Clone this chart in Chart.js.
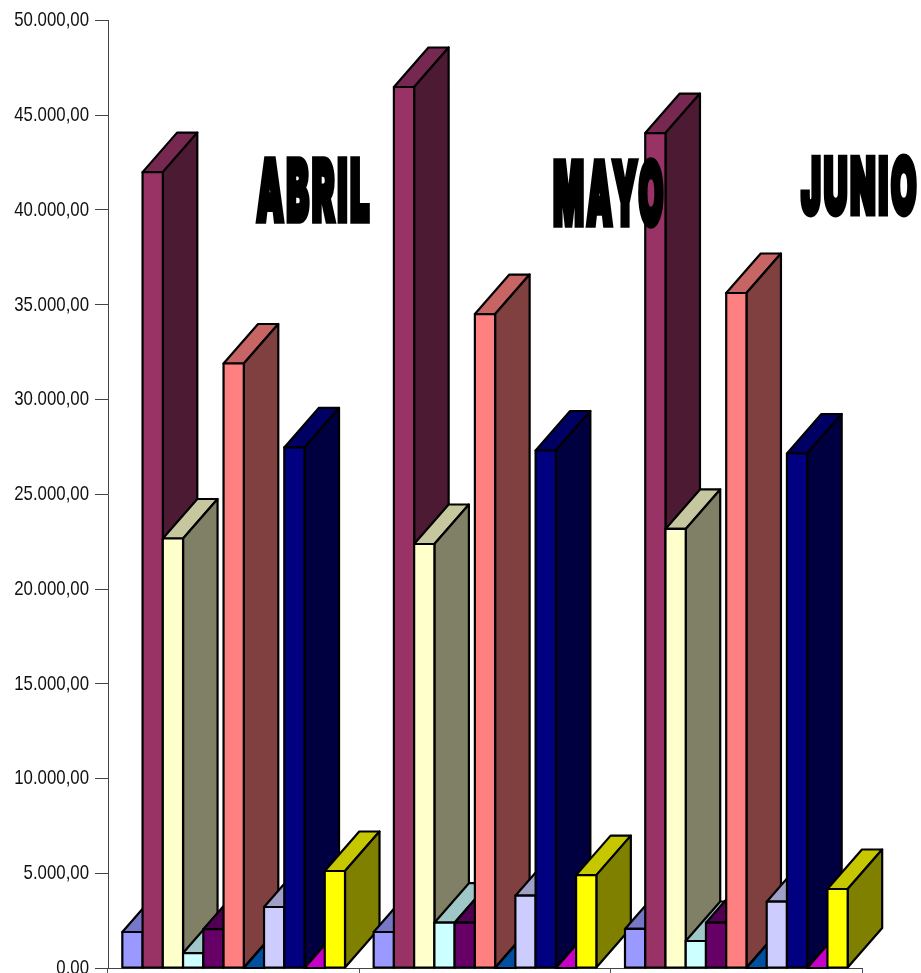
<!DOCTYPE html>
<html lang="es">
<head>
<meta charset="UTF-8">
<title>Abril Mayo Junio</title>
<script src="https://cdn.jsdelivr.net/npm/chart.js"></script>
<style>
    html, body { margin: 0; padding: 0; background: #fff; overflow: hidden; }
    canvas { display: block; }
</style>
</head>
<body>
<canvas id="chart" width="921" height="973"></canvas>
<script>
// values
var categories = ['ABRIL', 'MAYO', 'JUNIO'];
var yTickLabels = ['0,00', '5.000,00', '10.000,00', '15.000,00', '20.000,00', '25.000,00',
    '30.000,00', '35.000,00', '40.000,00', '45.000,00', '50.000,00'];

var periwinkle = [1900, 1900, 2060];
var maroon = [42000, 46490, 44060];
var cream = [22665, 22375, 23170];
var lightCyan = [790, 2390, 1425];
var purple = [2050, 2390, 2390];
var salmon = [31900, 34510, 35620];
var blue = [0, 0, 0];
var lavender = [3220, 3815, 3500];
var navy = [27470, 27310, 27150];
var magenta = [0, 0, 0];
var yellow = [5120, 4900, 4170];

var seriesValues = [periwinkle, maroon, cream, lightCyan, purple, salmon, blue, lavender, navy, magenta, yellow];
var seriesColors = [[153, 153, 255], [153, 51, 102], [255, 255, 204], [204, 255, 255], [102, 0, 102],
    [255, 128, 128], [0, 102, 204], [204, 204, 255], [0, 0, 128], [255, 0, 255], [255, 255, 0]];

// depth of the fake 3d, and where the wordart titles sit (x, y, w, h)
var DEPTH_X = 34.5, DEPTH_Y = 39.5;
var titleBoxes = [[256, 156, 114, 68], [553, 158, 111, 71], [800, 154, 117, 63]];

function shade(c, f) {
    return 'rgb(' + c.map(function(v) { return Math.round(v * f); }).join(',') + ')';
}

function poly(ctx, pts, fill) {
    ctx.beginPath();
    pts.forEach(function(p, i) { if (i) ctx.lineTo(p[0], p[1]); else ctx.moveTo(p[0], p[1]); });
    ctx.closePath();
    ctx.fillStyle = fill;
    ctx.fill();
    ctx.stroke();
}

// bars are painted group by group, left to right, so nearer bars cover the depth of earlier ones
var bars3d = {
    id: 'bars3d',
    beforeDatasetsDraw: function(chart) {
        var ctx = chart.ctx;
        categories.forEach(function(cat, g) {
            seriesValues.forEach(function(vals, s) {
                var el = chart.getDatasetMeta(s).data[g];
                var p = el.getProps(['x', 'y', 'base', 'width']);
                var l = p.x - p.width / 2, r = p.x + p.width / 2;
                ctx.save();
                ctx.strokeStyle = '#000';
                ctx.lineWidth = 2.2;
                ctx.lineJoin = 'round';
                poly(ctx, [[l, p.y], [r, p.y], [r + DEPTH_X, p.y - DEPTH_Y], [l + DEPTH_X, p.y - DEPTH_Y]], shade(seriesColors[s], 0.78));
                poly(ctx, [[r, p.y], [r + DEPTH_X, p.y - DEPTH_Y], [r + DEPTH_X, p.base - DEPTH_Y], [r, p.base]], shade(seriesColors[s], 0.5));
                el.draw(ctx, chart.chartArea);
                ctx.strokeRect(l, p.y, p.width, p.base - p.y);
                ctx.restore();
            });
        });
        return false;
    }
};

// no narrow font here, so the tick labels get squeezed by hand
var narrowTicks = {
    id: 'narrowTicks',
    afterDraw: function(chart) {
        var ctx = chart.ctx;
        var scale = chart.scales.y;
        scale.ticks.forEach(function(t, i) {
            ctx.save();
            ctx.font = '21px "Liberation Sans"';
            ctx.fillStyle = '#111';
            ctx.textAlign = 'right';
            ctx.textBaseline = 'middle';
            ctx.translate(89, scale.getPixelForTick(i));
            ctx.scale(0.8, 1);
            ctx.fillText(yTickLabels[i], 0, 0);
            ctx.restore();
        });
    }
};

var wordArt = {
    id: 'wordArt',
    afterDraw: function(chart) {
        var ctx = chart.ctx;
        var lw = 9;
        categories.forEach(function(cat, i) {
            var box = titleBoxes[i];
            ctx.save();
            ctx.font = '900 100px Inter, Roboto, "Liberation Sans"';
            ctx.letterSpacing = '9px';
            ctx.textBaseline = 'alphabetic';
            ctx.textAlign = 'left';
            var m = ctx.measureText(cat);
            var tw = m.actualBoundingBoxRight + m.actualBoundingBoxLeft + lw;
            var th = m.actualBoundingBoxAscent + m.actualBoundingBoxDescent + lw;
            ctx.translate(box[0], box[1]);
            ctx.scale(box[2] / tw, box[3] / th);
            ctx.fillStyle = '#000';
            ctx.strokeStyle = '#000';
            ctx.lineWidth = lw;
            ctx.lineJoin = 'miter';
            ctx.miterLimit = 2;
            var x = m.actualBoundingBoxLeft + lw / 2, y = m.actualBoundingBoxAscent + lw / 2;
            ctx.fillText(cat, x, y);
            ctx.strokeText(cat, x, y);
            ctx.restore();
        });
    }
};

var ctx = document.getElementById('chart').getContext('2d');
var chart = new Chart(ctx, {
    type: 'bar',
    data: {
        labels: categories,
        datasets: seriesValues.map(function(vals, s) {
            return { data: vals, backgroundColor: shade(seriesColors[s], 1), borderWidth: 0 };
        })
    },
    options: {
        responsive: false,
        animation: false,
        devicePixelRatio: 1,
        layout: { padding: { top: 20.5, right: 59, left: 0, bottom: 0 } },
        plugins: { legend: { display: false }, tooltip: { enabled: false } },
        datasets: { bar: { barPercentage: 1, categoryPercentage: 0.886 } },
        scales: {
            x: {
                grid: { drawOnChartArea: false, drawTicks: true, tickLength: 6, color: '#555' },
                border: { color: '#444', width: 1 },
                ticks: { display: false },
                afterFit: function(s) { s.height = 5; s.paddingLeft = 0; s.paddingRight = 0; }
            },
            y: {
                min: 0,
                max: 50000,
                grid: { drawOnChartArea: false, drawTicks: true, tickLength: 13, color: '#444' },
                border: { color: '#444', width: 1 },
                ticks: {
                    stepSize: 5000,
                    display: false
                },
                afterFit: function(s) { s.width = 108; s.paddingTop = 0; s.paddingBottom = 0; }
            }
        }
    },
    plugins: [bars3d, narrowTicks, wordArt]
});
</script>
</body>
</html>
